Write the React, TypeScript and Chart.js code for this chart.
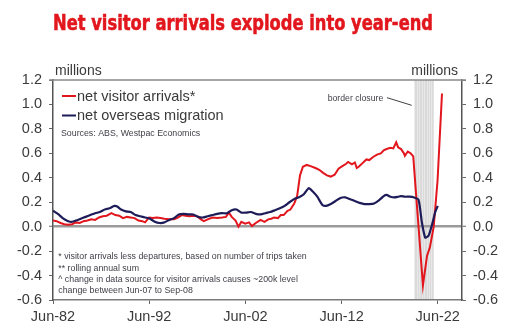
import React, { useEffect, useRef } from 'react';
import { Chart, registerables } from 'chart.js';

Chart.register(...registerables);

// ---- data (decimal years; Jun-82 = 1982.42) ----
const visitorYears = [
  1982.42, 1982.8, 1983.2, 1983.6, 1984.0, 1984.4, 1984.8, 1985.2, 1985.6, 1986.0,
  1986.4, 1986.8, 1987.2, 1987.6, 1988.0, 1988.5, 1988.9, 1989.3, 1989.7, 1990.1,
  1990.5, 1990.9, 1991.3, 1991.7, 1992.0, 1992.4, 1992.8, 1993.2, 1993.6, 1994.0,
  1994.5, 1995.0, 1995.4, 1995.8, 1996.2, 1996.6, 1997.0, 1997.4, 1997.8, 1998.1,
  1998.5, 1999.0, 1999.5, 2000.0, 2000.4, 2000.7, 2001.0, 2001.4, 2001.7, 2002.0,
  2002.4, 2002.8, 2003.1, 2003.5, 2004.0, 2004.4, 2004.8, 2005.1, 2005.4, 2005.8,
  2006.1, 2006.4, 2006.8, 2007.1, 2007.5, 2007.8, 2008.1, 2008.4, 2008.8, 2009.2,
  2009.7, 2010.1, 2010.5, 2010.9, 2011.3, 2011.7, 2012.1, 2012.5, 2012.9, 2013.1,
  2013.5, 2013.8, 2014.0, 2014.2, 2014.6, 2015.0, 2015.3, 2015.7, 2016.1, 2016.5,
  2016.8, 2017.1, 2017.5, 2017.8, 2018.1, 2018.3, 2018.6, 2018.9, 2019.0, 2019.3,
  2019.6, 2019.87, 2020.88, 2021.3, 2021.6, 2022.0, 2022.4, 2022.86,
];
const visitorValues = [
  0.05, 0.045, 0.03, 0.02, 0.015, 0.02, 0.035, 0.03, 0.045, 0.05,
  0.06, 0.055, 0.075, 0.085, 0.09, 0.11, 0.095, 0.09, 0.07, 0.08,
  0.075, 0.07, 0.05, 0.045, 0.035, 0.075, 0.07, 0.075, 0.07, 0.065,
  0.06, 0.06, 0.075, 0.095, 0.09, 0.085, 0.09, 0.085, 0.06, 0.045,
  0.06, 0.075, 0.07, 0.075, 0.08, 0.115, 0.08, 0.05, 0.0, 0.04,
  0.025, 0.035, 0.005, 0.03, 0.055, 0.04, 0.06, 0.065, 0.075, 0.07,
  0.095, 0.095, 0.13, 0.14, 0.19, 0.25, 0.42, 0.49, 0.505, 0.495,
  0.48, 0.465, 0.44, 0.42, 0.41, 0.425, 0.475, 0.495, 0.515, 0.53,
  0.51, 0.525, 0.48, 0.49, 0.52, 0.55, 0.545, 0.57, 0.59, 0.6,
  0.625, 0.635, 0.645, 0.64, 0.69, 0.65, 0.635, 0.6, 0.58, 0.615,
  0.6, 0.575, -0.48, -0.24, -0.17, 0.0, 0.38, 1.09,
];

const migrationYears = [
  1982.42, 1983.0, 1983.5, 1984.0, 1984.4, 1984.8, 1985.3, 1985.8, 1986.3, 1986.8,
  1987.3, 1987.8, 1988.3, 1988.8, 1989.1, 1989.5, 1990.0, 1990.5, 1991.0, 1991.5,
  1992.0, 1992.5, 1993.0, 1993.5, 1994.0, 1994.5, 1995.0, 1995.5, 1996.0, 1996.5,
  1997.0, 1997.5, 1998.0, 1998.5, 1999.0, 1999.5, 2000.0, 2000.5, 2001.0, 2001.5,
  2002.0, 2002.5, 2003.0, 2003.5, 2004.0, 2004.5, 2005.0, 2005.5, 2006.0, 2006.5,
  2007.0, 2007.6, 2008.0, 2008.5, 2009.0, 2009.4, 2009.9, 2010.4, 2010.8, 2011.3,
  2011.8, 2012.3, 2012.8, 2013.3, 2013.8, 2014.3, 2014.8, 2015.3, 2015.8, 2016.3,
  2016.8, 2017.1, 2017.5, 2017.9, 2018.3, 2018.6, 2019.0, 2019.5, 2019.9, 2020.42,
  2020.78, 2021.12, 2021.46, 2021.82, 2022.16, 2022.42,
];
const migrationValues = [
  0.13, 0.1, 0.065, 0.045, 0.04, 0.05, 0.065, 0.08, 0.095, 0.11,
  0.12, 0.14, 0.15, 0.17, 0.165, 0.14, 0.125, 0.12, 0.095, 0.085,
  0.075, 0.065, 0.04, 0.03, 0.035, 0.055, 0.07, 0.1, 0.105, 0.1,
  0.1, 0.08, 0.075, 0.085, 0.095, 0.105, 0.11, 0.11, 0.135, 0.14,
  0.115, 0.115, 0.12, 0.105, 0.1, 0.11, 0.12, 0.135, 0.15, 0.17,
  0.2, 0.23, 0.24, 0.265, 0.315, 0.29, 0.245, 0.18, 0.17, 0.185,
  0.21, 0.235, 0.24, 0.225, 0.21, 0.195, 0.185, 0.185, 0.19, 0.215,
  0.25, 0.26, 0.245, 0.24, 0.245, 0.25, 0.245, 0.245, 0.24, 0.22,
  0.03, -0.09, -0.075, 0.015, 0.12, 0.17,
];

const xTickYears = [1982.42, 1992.42, 2002.42, 2012.42, 2022.42];
const xTickLabels = ['Jun-82', 'Jun-92', 'Jun-02', 'Jun-12', 'Jun-22'];
const yTickValues = [-0.6, -0.4, -0.2, 0.0, 0.2, 0.4, 0.6, 0.8, 1.0, 1.2];
const xMin = 1982.42;
const xMax = 2024.94;
const borderClosureStart = 2020.0;
const borderClosureEnd = 2022.0;

const titleText = 'Net visitor arrivals explode into year-end';
const seriesNames = ['net visitor arrivals*', 'net overseas migration'];
const sourceText = 'Sources: ABS, Westpac Economics';
const footnotes = [
  '* visitor arrivals less departures, based on number of trips taken',
  '** rolling annual sum',
  '^ change in data source for visitor arrivals causes ~200k level',
  'change between Jun-07 to Sep-08',
];
const unitText = 'millions';
const annotationText = 'border closure';

const RED = '#e2161d';
const NAVY = '#1d1b58';
const FONT = "'Liberation Sans', Arial, sans-serif";
const TEXT = '#3a3a3a';

const decorPlugin = {
  id: 'decor',
  beforeDraw(chart: any) {
    const { ctx, chartArea, scales } = chart;
    const x = scales.x;
    const x1 = x.getPixelForValue(borderClosureStart);
    const x2 = x.getPixelForValue(borderClosureEnd);
    ctx.save();
    ctx.fillStyle = '#dadada';
    ctx.fillRect(x1, chartArea.top, x2 - x1, chartArea.bottom - chartArea.top);
    ctx.strokeStyle = 'rgba(255,255,255,0.55)';
    ctx.lineWidth = 0.7;
    for (let t = borderClosureStart + 0.25; t < borderClosureEnd - 0.01; t += 0.25) {
      const px = Math.round(x.getPixelForValue(t)) + 0.5;
      ctx.beginPath();
      ctx.moveTo(px, chartArea.top);
      ctx.lineTo(px, chartArea.bottom);
      ctx.stroke();
    }
    ctx.restore();
  },
  afterDraw(chart: any) {
    const { ctx, chartArea } = chart;
    ctx.save();
    // top border
    ctx.strokeStyle = '#8a8a8a';
    ctx.lineWidth = 1.5;
    ctx.beginPath();
    ctx.moveTo(chartArea.left - 4, chartArea.top);
    ctx.lineTo(chartArea.right + 4, chartArea.top);
    ctx.stroke();

    // title
    ctx.fillStyle = RED;
    ctx.textBaseline = 'alphabetic';
    ctx.textAlign = 'left';
    ctx.font = `bold 22px 'Liberation Sans Narrow', 'DejaVu Sans Condensed', sans-serif`;
    const tw = ctx.measureText(titleText).width;
    ctx.save();
    ctx.translate(53, 29.5);
    ctx.scale(380 / tw, 1);
    ctx.strokeStyle = RED;
    ctx.lineWidth = 0.55;
    ctx.fillText(titleText, 0, 0);
    ctx.strokeText(titleText, 0, 0);
    ctx.restore();

    // units
    ctx.fillStyle = TEXT;
    ctx.font = `14px ${FONT}`;
    ctx.textBaseline = 'middle';
    ctx.fillText(unitText, 55, 71);
    ctx.textAlign = 'right';
    ctx.fillText(unitText, 458, 71);
    ctx.textAlign = 'left';

    // legend
    const legendColors = [RED, NAVY];
    const legendY = [96, 115.5];
    ctx.font = `14.5px ${FONT}`;
    for (let i = 0; i < seriesNames.length; i++) {
      ctx.strokeStyle = legendColors[i];
      ctx.lineWidth = 2;
      ctx.beginPath();
      ctx.moveTo(62, legendY[i]);
      ctx.lineTo(76, legendY[i]);
      ctx.stroke();
      ctx.fillStyle = TEXT;
      ctx.fillText(seriesNames[i], 77, legendY[i] + 0.5);
    }

    // source
    ctx.font = `8.8px ${FONT}`;
    ctx.fillStyle = '#404048';
    ctx.fillText(sourceText, 61, 134);

    // footnotes
    const fy = [256.7, 268.3, 279.5, 290.8];
    for (let i = 0; i < footnotes.length; i++) {
      ctx.fillText(footnotes[i], 58.3, fy[i]);
    }

    // border closure annotation
    ctx.font = `8.7px ${FONT}`;
    ctx.fillText(annotationText, 327.7, 98.3);
    ctx.strokeStyle = '#404040';
    ctx.lineWidth = 1;
    ctx.beginPath();
    ctx.moveTo(387, 97.7);
    ctx.lineTo(411.7, 105.3);
    ctx.stroke();
    ctx.restore();
  },
};

const yAxisCommon = (position: 'left' | 'right', width: number) => ({
  type: 'linear' as const,
  position,
  min: -0.6,
  max: 1.2,
  afterBuildTicks: (scale: any) => {
    scale.ticks = yTickValues.map((v) => ({ value: v }));
  },
  afterFit: (scale: any) => {
    scale.width = width;
  },
  ticks: {
    callback: (v: number, i: number) => yTickValues[i].toFixed(1),
    font: { family: FONT, size: 14.5 },
    color: TEXT,
    padding: 7,
  },
  grid: {
    drawOnChartArea: position === 'left',
    color: (c: any) => (c.tick && Math.abs(c.tick.value) < 1e-9 ? '#9a9a9a' : 'rgba(0,0,0,0)'),
    lineWidth: (c: any) => (c.tick && Math.abs(c.tick.value) < 1e-9 ? 2.5 : 1),
    tickColor: '#666666',
    tickWidth: 1,
    tickLength: 4,
  },
  border: { display: true, color: '#555555', width: 1.5 },
});

export default function App() {
  const canvasRef = useRef<HTMLCanvasElement | null>(null);

  useEffect(() => {
    if (!canvasRef.current) return;
    const chart = new Chart(canvasRef.current, {
      type: 'line',
      data: {
        datasets: [
          {
            label: seriesNames[1],
            data: migrationYears.map((x, i) => ({ x, y: migrationValues[i] })),
            borderColor: NAVY,
            borderWidth: 2.2,
            pointRadius: 0,
            tension: 0.2,
            order: 1,
          },
          {
            label: seriesNames[0],
            data: visitorYears.map((x, i) => ({ x, y: visitorValues[i] })),
            borderColor: RED,
            borderWidth: 2,
            pointRadius: 0,
            tension: 0,
            order: 2,
          },
        ],
      },
      options: {
        animation: false,
        responsive: true,
        maintainAspectRatio: false,
        layout: { padding: { top: 80, left: 0, right: 0, bottom: 0 } },
        plugins: { legend: { display: false }, tooltip: { enabled: false }, title: { display: false } },
        scales: {
          x: {
            type: 'linear',
            position: 'bottom',
            min: xMin,
            max: xMax,
            afterBuildTicks: (scale: any) => {
              scale.ticks = xTickYears.map((v) => ({ value: v }));
            },
            afterFit: (scale: any) => {
              scale.height = 33;
            },
            ticks: {
              callback: (v: number, i: number) => xTickLabels[i],
              font: { family: FONT, size: 14.5 },
              color: TEXT,
              padding: 4,
              maxRotation: 0,
              autoSkip: false,
            },
            grid: { drawOnChartArea: false, tickColor: '#666666', tickLength: 4 },
            border: { display: true, color: '#7a7a7a', width: 1.5 },
          },
          y: yAxisCommon('left', 53),
          y2: yAxisCommon('right', 48),
        },
      },
      plugins: [decorPlugin],
    } as any);
    return () => chart.destroy();
  }, []);

  return (
    <div style={{ position: 'absolute', left: 0, top: 0, width: 510, height: 333, background: '#fff' }}>
      <canvas ref={canvasRef} />
    </div>
  );
}
